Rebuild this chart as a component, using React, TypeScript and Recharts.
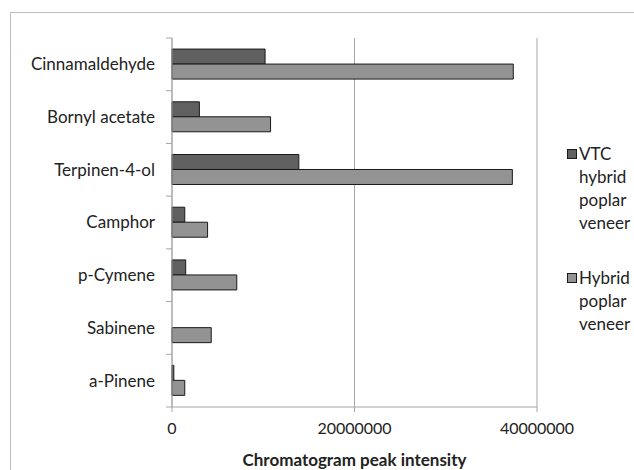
import React from 'react';
import { BarChart, Bar, XAxis, YAxis, CartesianGrid, Legend } from 'recharts';

const compounds = ['Cinnamaldehyde', 'Bornyl acetate', 'Terpinen-4-ol', 'Camphor', 'p-Cymene', 'Sabinene', 'a-Pinene'];
const vtcValues = [10200000, 3000000, 13900000, 1400000, 1500000, 0, 200000];
const hybridValues = [37400000, 10800000, 37300000, 3900000, 7100000, 4300000, 1400000];
const xTicks = [0, 20000000, 40000000];
const seriesNames = ['VTC hybrid poplar veneer', 'Hybrid poplar veneer'];
const seriesColors = ['#606060', '#939393'];

const data = compounds.map((name, i) => ({ name, vtc: vtcValues[i], hybrid: hybridValues[i] }));

const FONT = 'Lato, "Open Sans", sans-serif';
const GRID = '#a6a6a6';

const CategoryTick = (props: any) => {
  const { x, y, payload, index, visibleTicksCount } = props;
  const off = payload.offset || 0;
  const lx1 = x + 11;
  const lx2 = x + 17;
  return (
    <g>
      <line x1={lx1} x2={lx2} y1={y - off} y2={y - off} stroke={GRID} strokeWidth={1} />
      {index === visibleTicksCount - 1 && (
        <line x1={lx1} x2={lx2} y1={y + off} y2={y + off} stroke={GRID} strokeWidth={1} />
      )}
      <text x={x} y={y} dy="0.35em" textAnchor="end" fill="#222" fontSize={17} fontFamily={FONT}>
        {payload.value}
      </text>
    </g>
  );
};

const LegendContent = () => (
  <div
    style={{
      width: 80,
      boxSizing: 'border-box',
      paddingLeft: 30,
      fontFamily: FONT,
      fontSize: 17,
      color: '#222',
      lineHeight: '23px',
    }}
  >
    {seriesNames.map((name, i) => (
      <div key={name} style={{ position: 'relative', paddingLeft: 12, marginBottom: i === 0 ? 32 : 0 }}>
        <span
          style={{
            position: 'absolute',
            left: 0,
            top: 7,
            width: 8,
            height: 8,
            background: seriesColors[i],
            border: '1px solid #1a1a1a',
          }}
        />
        {name.split(' ').map((w, j) => (
          <div key={j}>{w}</div>
        ))}
      </div>
    ))}
  </div>
);

export default function App() {
  return (
    <div style={{ position: 'absolute', left: 0, top: 0, width: 634, height: 470, overflow: 'hidden', background: '#fff' }}>
      <div
        style={{
          position: 'absolute',
          left: 10,
          top: 12,
          width: 700,
          height: 600,
          border: '1px solid #bfbfbf',
          boxSizing: 'border-box',
        }}
      />
      <div style={{ position: 'absolute', left: 0, top: 0 }}>
        <BarChart
          width={634}
          height={470}
          data={data}
          layout="vertical"
          margin={{ top: 38, right: 17, bottom: 0, left: 0 }}
          barCategoryGap="21%"
          barGap={0}
        >
          <CartesianGrid horizontal={false} stroke={GRID} strokeWidth={1} />
          <XAxis
            type="number"
            domain={[0, 40000000]}
            ticks={xTicks}
            interval={0}
            height={63}
            axisLine={{ stroke: GRID }}
            tickLine={{ stroke: GRID }}
            tickSize={5}
            tickMargin={11}
            tick={{ fill: '#222', fontSize: 16, fontFamily: FONT }}
            label={{
              value: 'Chromatogram peak intensity',
              position: 'insideBottom',
              offset: 4,
              style: { fontWeight: 'bold', fontSize: 17, fill: '#222', fontFamily: FONT },
            }}
          />
          <YAxis
            type="category"
            dataKey="name"
            width={172}
            axisLine={{ stroke: GRID }}
            tickLine={false}
            tickSize={6}
            tickMargin={11}
            interval={0}
            tick={<CategoryTick />}
          />
          <Legend
            layout="vertical"
            align="right"
            verticalAlign="middle"
            content={<LegendContent />}
            wrapperStyle={{ top: 142, left: 537, right: 'auto' }}
          />
          <Bar dataKey="vtc" name={seriesNames[0]} fill={seriesColors[0]} stroke="#1a1a1a" strokeWidth={1} isAnimationActive={false} />
          <Bar dataKey="hybrid" name={seriesNames[1]} fill={seriesColors[1]} stroke="#1a1a1a" strokeWidth={1} isAnimationActive={false} />
        </BarChart>
      </div>
    </div>
  );
}
